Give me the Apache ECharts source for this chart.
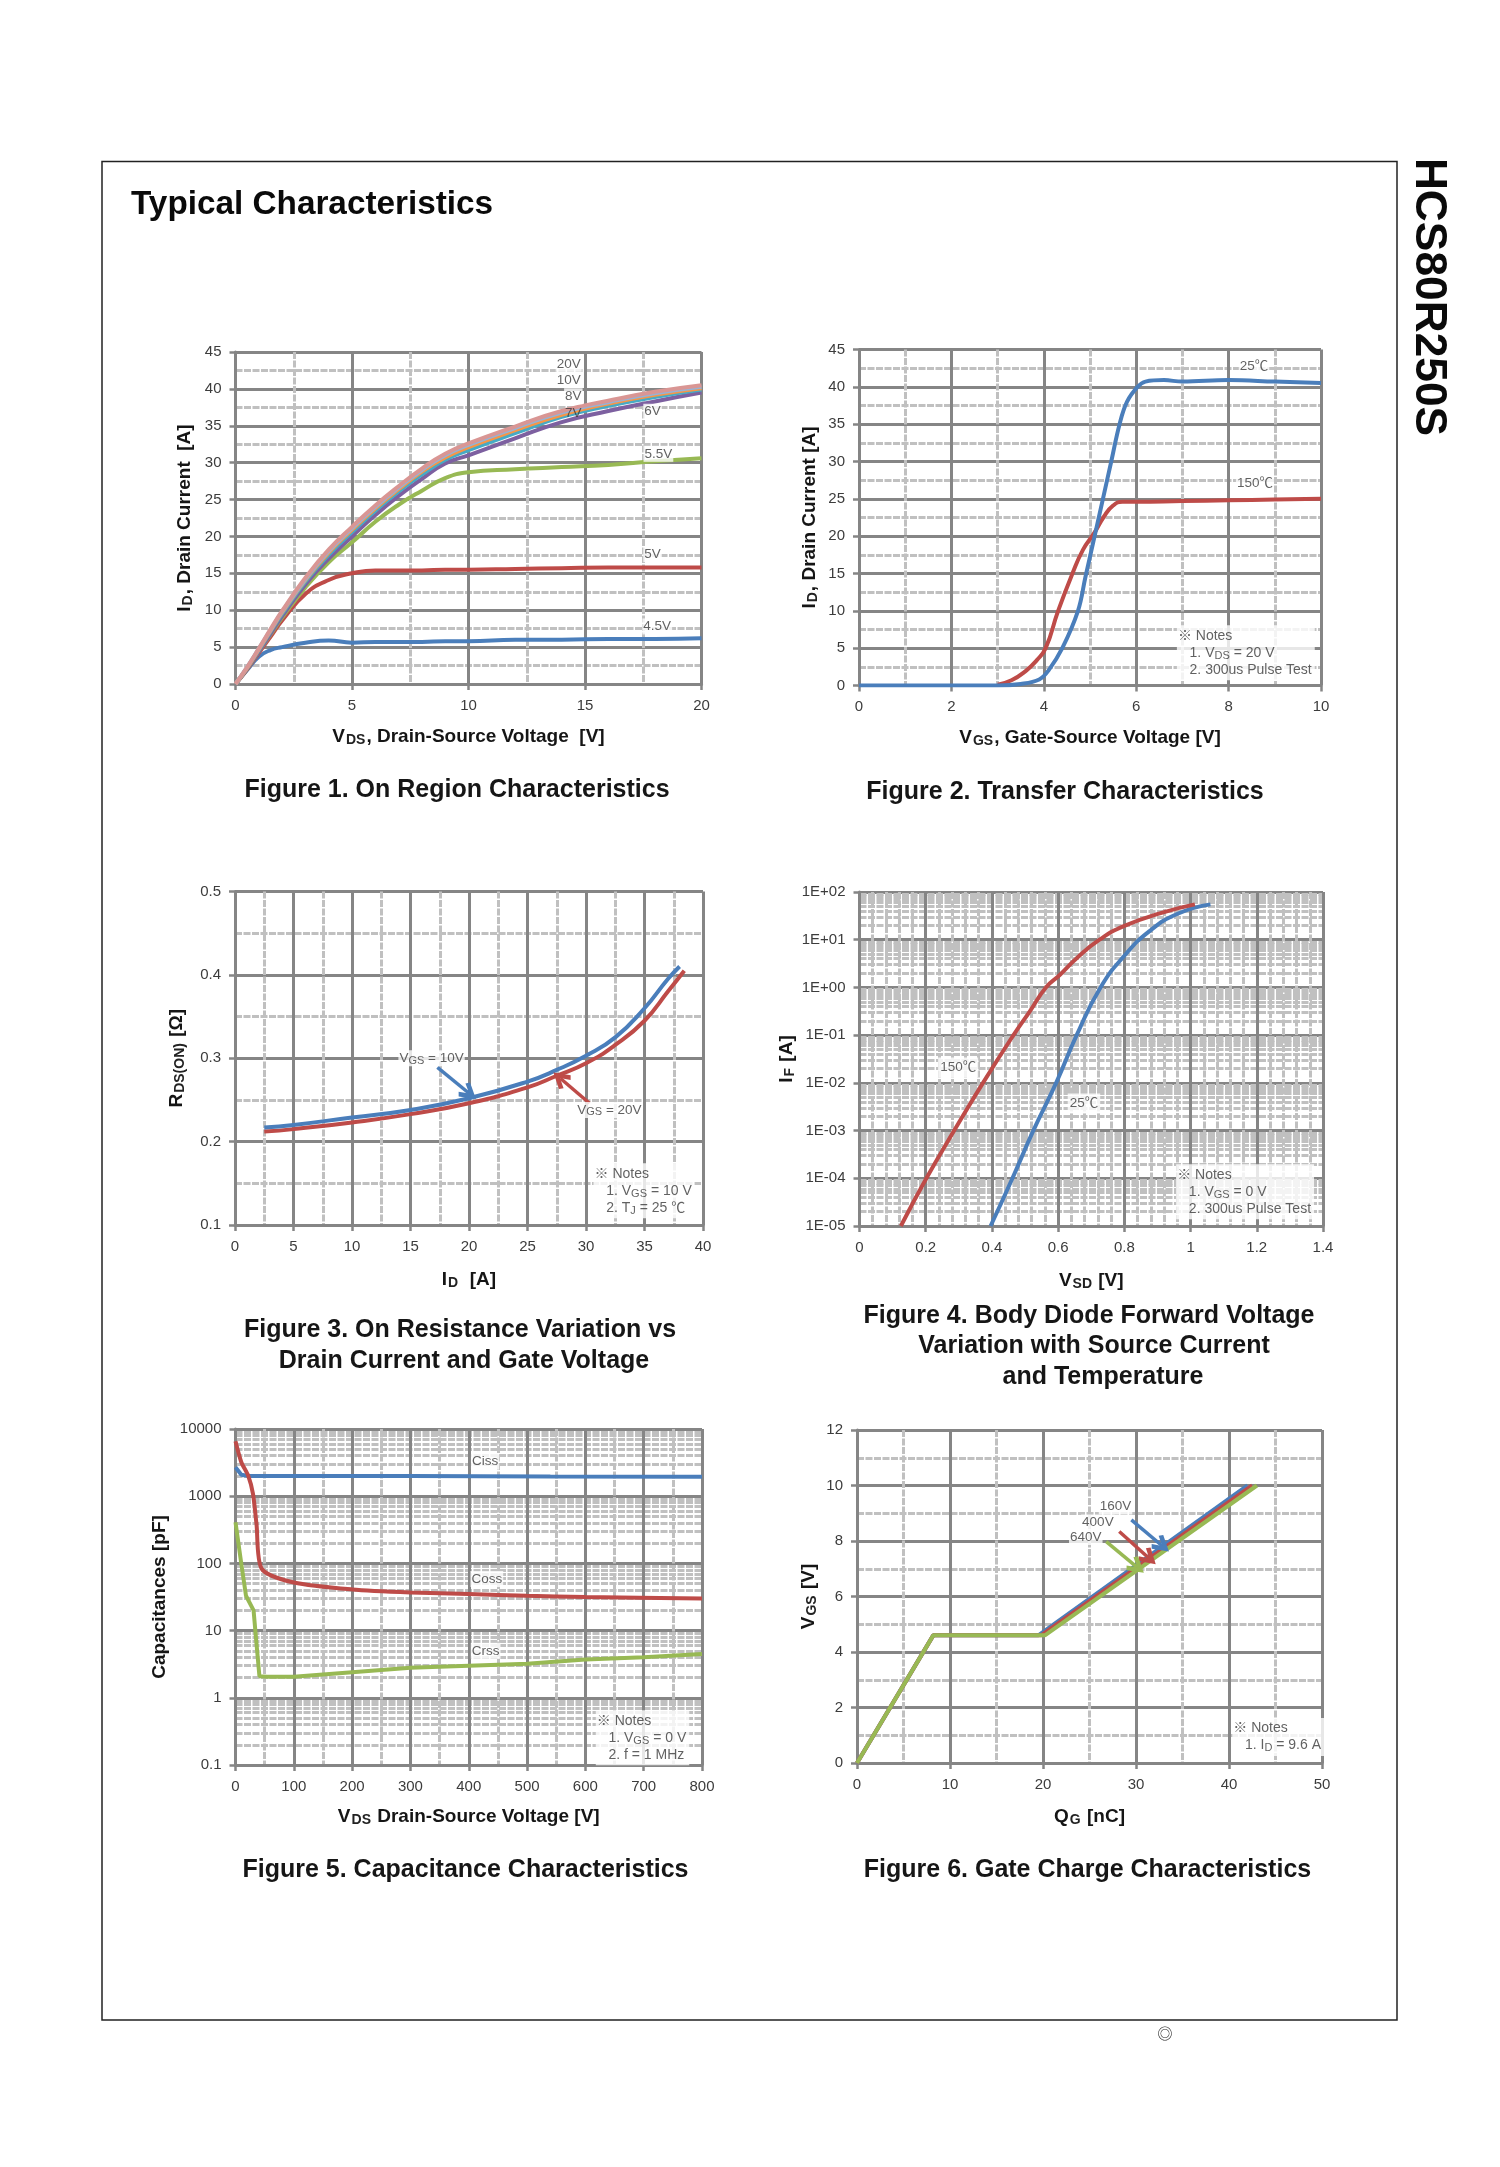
<!DOCTYPE html>
<html>
<head>
<meta charset="utf-8">
<style>html,body{margin:0;padding:0;background:#fff}#main{width:1500px;height:2167px}</style>
<script src="https://cdn.jsdelivr.net/npm/echarts@6/dist/echarts.min.js"></script>
</head>
<body>
<div id="main"></div>
<script>
// Figure 1
const fig1Vds = [0, 0.5, 1, 1.5, 2, 3, 4, 5, 6, 7, 8, 9, 10, 12, 14, 16, 18, 20]
const fig1Id45 = [0, 1.9, 3.7, 4.6, 5, 5.6, 5.9, 5.6, 5.7, 5.7, 5.7, 5.8, 5.8, 6, 6, 6.1, 6.1, 6.2]
const fig1Id50 = [0, 2, 4.2, 6.4, 8.6, 12.2, 14.1, 15, 15.4, 15.4, 15.4, 15.5, 15.5, 15.6, 15.7, 15.8, 15.8, 15.8]
const fig1Id55 = [0, 2.1, 4.4, 6.7, 9, 13.1, 16.5, 19.2, 22, 24.3, 26.2, 27.9, 28.7, 29.1, 29.4, 29.7, 30.2, 30.6]
const fig1Id60 = [0, 2.1, 4.4, 6.8, 9.2, 13.5, 17, 20, 22.9, 25.5, 27.8, 29.9, 31, 33.3, 35.5, 37, 38.3, 39.5]
const fig1Id70 = [0, 2.2, 4.6, 7.1, 9.5, 13.9, 17.5, 20.6, 23.5, 26.1, 28.4, 30.4, 31.7, 34, 36.2, 37.7, 38.9, 39.9]
const fig1Id80 = [0, 2.2, 4.7, 7.2, 9.7, 14.1, 17.8, 20.9, 23.8, 26.4, 28.8, 30.7, 32.1, 34.4, 36.5, 38, 39.2, 40.1]
const fig1Id100 = [0, 2.3, 4.8, 7.3, 9.8, 14.2, 18, 21.1, 24, 26.6, 29, 31, 32.4, 34.7, 36.8, 38.2, 39.4, 40.3]
const fig1Id200 = [0, 2.3, 4.8, 7.4, 9.9, 14.4, 18.2, 21.3, 24.2, 26.8, 29.2, 31.2, 32.6, 34.9, 37, 38.4, 39.6, 40.5]

// Figure 2
const fig2Vgs25 = [0, 3, 3.5, 3.9, 4.1, 4.4, 4.74, 4.9, 5.1, 5.28, 5.46, 5.64, 5.8, 6.03, 6.2, 6.6, 7, 8, 9, 10]
const fig2Id25 = [0, 0, 0.2, 0.8, 2, 5, 10, 14.5, 20, 25, 30, 35, 38, 40, 40.7, 40.9, 40.7, 40.9, 40.7, 40.5]
const fig2Vgs150 = [3, 3.3, 3.6, 3.85, 4.04, 4.31, 4.62, 4.85, 5.09, 5.3, 5.5, 5.7, 6, 7, 8, 9, 10]
const fig2Id150 = [0.1, 0.7, 1.9, 3.4, 5, 10, 15, 18.2, 20.4, 22.6, 24.1, 24.6, 24.6, 24.7, 24.8, 24.9, 25]

// Figure 3
const fig3Id10 = [2.5, 5, 10, 15, 20, 25, 27.5, 30, 32.5, 35, 37, 38]
const fig3Rds10 = [0.217, 0.22, 0.229, 0.238, 0.252, 0.272, 0.286, 0.303, 0.325, 0.36, 0.395, 0.41]
const fig3Id20 = [2.5, 5, 10, 15, 20, 25, 27.5, 30, 32.5, 35, 37, 38.4]
const fig3Rds20 = [0.212, 0.215, 0.223, 0.233, 0.246, 0.265, 0.279, 0.294, 0.316, 0.345, 0.38, 0.405]

// Figure 4
const fig4Vsd150 = [0.125, 0.202, 0.286, 0.373, 0.465, 0.515, 0.563, 0.604, 0.656, 0.725, 0.8, 0.915, 1.013]
const fig4If150 = [0.00001, 0.0001, 0.001, 0.01, 0.1, 0.32, 1, 1.8, 4.1, 10, 19.5, 37, 55]
const fig4Vsd25 = [0.396, 0.462, 0.525, 0.594, 0.656, 0.728, 0.8, 0.875, 0.961, 1.06]
const fig4If25 = [0.00001, 0.0001, 0.001, 0.01, 0.1, 1, 4.6, 15, 35, 55]
const fig4TickLabels = ['1E-05', '1E-04', '1E-03', '1E-02', '1E-01', '1E+00', '1E+01', '1E+02']

// Figure 5
const fig5VdsCiss = [0, 10, 22, 300, 540, 800]
const fig5Ciss = [2690, 2090, 2000, 2000, 1960, 1950]
const fig5VdsCoss = [0, 10, 22, 30, 36, 45, 100, 200, 300, 400, 500, 600, 800]
const fig5Coss = [6550, 3200, 2000, 1080, 385, 83, 52, 41, 37, 35, 33, 31.5, 30]
const fig5VdsCrss = [0, 10, 18, 31, 35, 41, 54, 100, 200, 300, 400, 500, 600, 700, 800]
const fig5Crss = [410, 98, 33, 20, 8, 2.1, 2.05, 2.05, 2.4, 2.8, 3, 3.2, 3.7, 4, 4.5]
const fig5TickLabels = ['0.1', '1', '10', '100', '1000', '10000']

// Figure 6
const fig6Qg160 = [0, 8.2, 19.5, 42]
const fig6Vgs160 = [0, 4.6, 4.6, 10]
const fig6Qg400 = [0, 8.2, 19.8, 42.5]
const fig6Vgs400 = [0, 4.6, 4.6, 10]
const fig6Qg640 = [0, 8.2, 20.2, 43]
const fig6Vgs640 = [0, 4.6, 4.6, 10]

const FONT = '"Liberation Sans", Arial, "Noto Sans CJK SC", sans-serif'
const BLUE = '#4a7ebb', RED = '#be4b48', GREEN = '#98b954', PURPLE = '#7d60a0'
const AQUA = '#46aac5', ORANGE = '#f79646', LIGHTBLUE = '#95b3d7', PINK = '#d99694'
const MAJOR = '#858585', MINOR = '#c0c0c0'
// open arrow head for the callouts
const ARROW_HEAD = 'path://M5,0 L10,8 L8,9.6 L5,4.6 L2,9.6 L0,8 Z'

function zip(xs, ys) { return xs.map((x, i) => [x, ys[i]]) }

const chart = echarts.init(document.getElementById('main'), null, { renderer: 'canvas' })

const plots = [
  { left: 235.5, top: 352, width: 466, height: 332 },
  { left: 859, top: 349.5, width: 462, height: 336 },
  { left: 235, top: 891.5, width: 468, height: 333.5 },
  { left: 859.5, top: 892, width: 463.5, height: 334 },
  { left: 235.5, top: 1429, width: 466.5, height: 336 },
  { left: 857, top: 1430, width: 465, height: 333 }
]

function baseAxis(gridIndex, name, nameGap) {
  return {
    gridIndex: gridIndex,
    name: name,
    nameLocation: 'middle',
    nameGap: nameGap,
    nameTextStyle: {
      fontFamily: FONT, fontWeight: 'bold', fontSize: 19, color: '#151515',
      rich: { s: { fontFamily: FONT, fontSize: 14, color: '#222', verticalAlign: 'bottom', padding: [7, 1, 0, 1] } }
    },
    axisLine: { show: true, onZero: false, lineStyle: { color: MAJOR, width: 3 } },
    axisTick: { show: true, length: 6, lineStyle: { color: MAJOR, width: 2.5 } },
    axisLabel: { fontFamily: FONT, fontSize: 15, color: '#3c3c3c', margin: 14, showMinLabel: true, showMaxLabel: true },
    splitLine: { show: true, lineStyle: { color: MAJOR, width: 3 } },
    minorTick: { show: false, splitNumber: 2 },
    minorSplitLine: { show: true, lineStyle: { color: MINOR, width: 3, type: [7, 1.5] } }
  }
}

function valueAxis(gridIndex, name, nameGap, min, max, interval, minorSplit) {
  const axis = baseAxis(gridIndex, name, nameGap)
  axis.type = 'value'
  axis.min = min
  axis.max = max
  axis.interval = interval
  axis.minorTick.splitNumber = minorSplit || 2
  return axis
}

function logAxis(gridIndex, name, nameGap, min, max, labels, splitNumber) {
  const axis = baseAxis(gridIndex, name, nameGap)
  axis.type = 'log'
  axis.logBase = 10
  axis.min = min
  axis.max = max
  axis.splitNumber = splitNumber
  axis.minorTick.splitNumber = 9
  axis.axisLabel.formatter = v => labels[Math.round(Math.log10(v) - Math.log10(min))]
  return axis
}

const xAxes = [
  valueAxis(0, 'V{s|DS}, Drain-Source Voltage  [V]', 42, 0, 20, 5),
  valueAxis(1, 'V{s|GS}, Gate-Source Voltage [V]', 42, 0, 10, 2),
  valueAxis(2, 'I{s|D}  [A]', 44, 0, 40, 5),
  valueAxis(3, 'V{s|SD} [V]', 44, 0, 1.4, 0.2, 5),
  valueAxis(4, 'V{s|DS} Drain-Source Voltage [V]', 41, 0, 800, 100),
  valueAxis(5, 'Q{s|G} [nC]', 43, 0, 50, 10)
]
const yAxes = [
  valueAxis(0, 'I{s|D}, Drain Current  [A]', 40, 0, 45, 5),
  valueAxis(1, 'I{s|D}, Drain Current [A]', 39, 0, 45, 5),
  valueAxis(2, 'R{s|DS(ON)} [Ω]', 48, 0.1, 0.5, 0.1),
  logAxis(3, 'I{s|F} [A]', 62, 0.00001, 100, fig4TickLabels, 7),
  logAxis(4, 'Capacitances [pF]', 66, 0.1, 10000, fig5TickLabels, 5),
  valueAxis(5, 'V{s|GS} [V]', 38, 0, 12, 2)
]

function curve(plot, data, color, extra) {
  return Object.assign({
    type: 'line', xAxisIndex: plot, yAxisIndex: plot, data: data,
    smooth: 0.5, showSymbol: false, symbol: 'none', silent: true, z: 4,
    lineStyle: { color: color, width: 4 }
  }, extra || {})
}

function arrow(from, to, color) {
  return {
    markLine: {
      silent: true, animation: false, symbol: ['none', ARROW_HEAD], symbolSize: 18,
      label: { show: false },
      lineStyle: { color: color, width: 3.5, type: 'solid' },
      data: [[{ coord: from }, { coord: to }]]
    }
  }
}

const labelRich = {
  s: { fontFamily: FONT, fontSize: 11, color: '#3a3a3a', verticalAlign: 'bottom', padding: [6, 0, 0, 0] }
}

// text placed on the plot at data coordinates, [x, y, text, bare]
function annotations(plot, items, opts) {
  opts = opts || {}
  return {
    type: 'scatter', xAxisIndex: plot, yAxisIndex: plot, silent: true, z: 6,
    symbolSize: 1, itemStyle: { color: 'rgba(0,0,0,0)' },
    data: items.map(it => ({
      value: [it[0], it[1]],
      label: {
        show: true, formatter: it[2],
        position: opts.position || 'inside', distance: 0,
        fontFamily: FONT, fontSize: opts.fontSize || 13.5, color: '#3a3a3a',
        lineHeight: opts.lineHeight || 16,
        align: opts.position ? 'left' : 'center',
        backgroundColor: it[3] ? 'transparent' : '#fff',
        padding: opts.padding || [0, 1],
        rich: labelRich
      }
    }))
  }
}

function notes(plot, x, y, text) {
  return annotations(plot, [[x, y, text]], { position: 'right', fontSize: 14, lineHeight: 17, padding: [2, 3, 2, 1] })
}

const series = [
  curve(0, zip(fig1Vds, fig1Id45), BLUE),
  curve(0, zip(fig1Vds, fig1Id50), RED),
  curve(0, zip(fig1Vds, fig1Id55), GREEN),
  curve(0, zip(fig1Vds, fig1Id60), PURPLE),
  curve(0, zip(fig1Vds, fig1Id70), AQUA),
  curve(0, zip(fig1Vds, fig1Id80), ORANGE),
  curve(0, zip(fig1Vds, fig1Id100), LIGHTBLUE),
  curve(0, zip(fig1Vds, fig1Id200), PINK),
  annotations(0, [
    [14.3, 43.4, '20V'], [14.3, 41.2, '10V'], [14.5, 39, '8V'], [14.5, 36.7, '7V', true],
    [17.9, 36.9, '6V'], [18.15, 31.2, '5.5V'], [17.9, 17.6, '5V'], [18.1, 7.8, '4.5V']
  ]),

  curve(1, zip(fig2Vgs150, fig2Id150), RED),
  curve(1, zip(fig2Vgs25, fig2Id25), BLUE, { smooth: 0.4 }),
  annotations(1, [[8.55, 42.8, '25℃'], [8.57, 27.05, '150℃']]),
  notes(1, 6.87, 4.4, '※ Notes\n   1. V{s|DS} = 20 V\n   2. 300us Pulse Test'),

  curve(2, zip(fig3Id20, fig3Rds20), RED, arrow([30.3, 0.246], [27.8, 0.276], RED)),
  curve(2, zip(fig3Id10, fig3Rds10), BLUE, arrow([17.3, 0.289], [20, 0.258], BLUE)),
  annotations(2, [[16.8, 0.3, 'V{s|GS} = 10V'], [32, 0.238, 'V{s|GS} = 20V']]),
  notes(2, 30.6, 0.141, '※ Notes\n   1. V{s|GS} = 10 V\n   2. T{s|J} = 25 ℃'),

  curve(3, zip(fig4Vsd25, fig4If25), BLUE),
  curve(3, zip(fig4Vsd150, fig4If150), RED),
  annotations(3, [[0.298, 0.021, '150℃'], [0.678, 0.0037, '25℃']], { padding: [2, 2] }),
  notes(3, 0.955, 0.000052, '※ Notes\n   1. V{s|GS} = 0 V\n   2. 300us Pulse Test'),

  curve(4, zip(fig5VdsCiss, fig5Ciss), BLUE, { smooth: false }),
  curve(4, zip(fig5VdsCoss, fig5Coss), RED, { smooth: 0.25 }),
  curve(4, zip(fig5VdsCrss, fig5Crss), GREEN, { smooth: false }),
  annotations(4, [[428, 3265, 'Ciss'], [431, 58.6, 'Coss'], [429, 5, 'Crss']]),
  notes(4, 617, 0.255, '※ Notes\n   1. V{s|GS} = 0 V\n   2. f = 1 MHz'),

  curve(5, zip(fig6Qg160, fig6Vgs160), BLUE, Object.assign({ smooth: false }, arrow([29.5, 8.76], [32.8, 7.83], BLUE))),
  curve(5, zip(fig6Qg400, fig6Vgs400), RED, Object.assign({ smooth: false }, arrow([28.2, 8.34], [31.4, 7.38], RED))),
  curve(5, zip(fig6Qg640, fig6Vgs640), GREEN, Object.assign({ smooth: false }, arrow([26.8, 7.98], [30.1, 7.06], GREEN))),
  annotations(5, [[27.8, 9.24, '160V'], [25.9, 8.67, '400V'], [24.6, 8.14, '640V']]),
  notes(5, 40.3, 0.94, '※ Notes\n   1. I{s|D} = 9.6 A')
]

function caption(text, x, y) {
  return {
    text: text, left: x, top: y - 15, textAlign: 'center', padding: 0,
    textStyle: { fontFamily: FONT, fontWeight: 'bold', fontSize: 25, color: '#161616' }
  }
}

chart.setOption({
  animation: false,
  backgroundColor: '#fff',
  title: [
    { text: 'Typical Characteristics', left: 131, top: 188, padding: 0,
      textStyle: { fontFamily: FONT, fontWeight: 'bold', fontSize: 33.3, color: '#0a0a0a' } },
    caption('Figure 1. On Region Characteristics', 457, 793),
    caption('Figure 2. Transfer Characteristics', 1065, 795),
    caption('Figure 3. On Resistance Variation vs', 460, 1333),
    caption('Drain Current and Gate Voltage', 464, 1364),
    caption('Figure 4. Body Diode Forward Voltage', 1089, 1319),
    caption('Variation with Source Current', 1094, 1349),
    caption('and Temperature', 1103, 1380),
    caption('Figure 5. Capacitance Characteristics', 465.5, 1872.5),
    caption('Figure 6. Gate Charge Characteristics', 1087.5, 1872.5)
  ],
  graphic: [
    { type: 'rect', silent: true, z: -10, shape: { x: 102, y: 161.5, width: 1295, height: 1858.5 },
      style: { fill: 'none', stroke: '#222', lineWidth: 1.5 } },
    { type: 'text', silent: true, x: 1428.5, y: 297, rotation: -Math.PI / 2,
      style: { text: 'HCS80R250S', font: 'bold 44.3px ' + FONT, fill: '#0a0a0a', textAlign: 'center', textVerticalAlign: 'middle' } },
    { type: 'text', silent: true, x: 1165, y: 2035,
      style: { text: '◎', font: '15px ' + FONT, fill: '#222', textAlign: 'center', textVerticalAlign: 'middle' } }
  ],
  grid: plots.map(p => Object.assign({ containLabel: false, show: false }, p)),
  xAxis: xAxes,
  yAxis: yAxes,
  series: series
})
</script>
</body>
</html>
